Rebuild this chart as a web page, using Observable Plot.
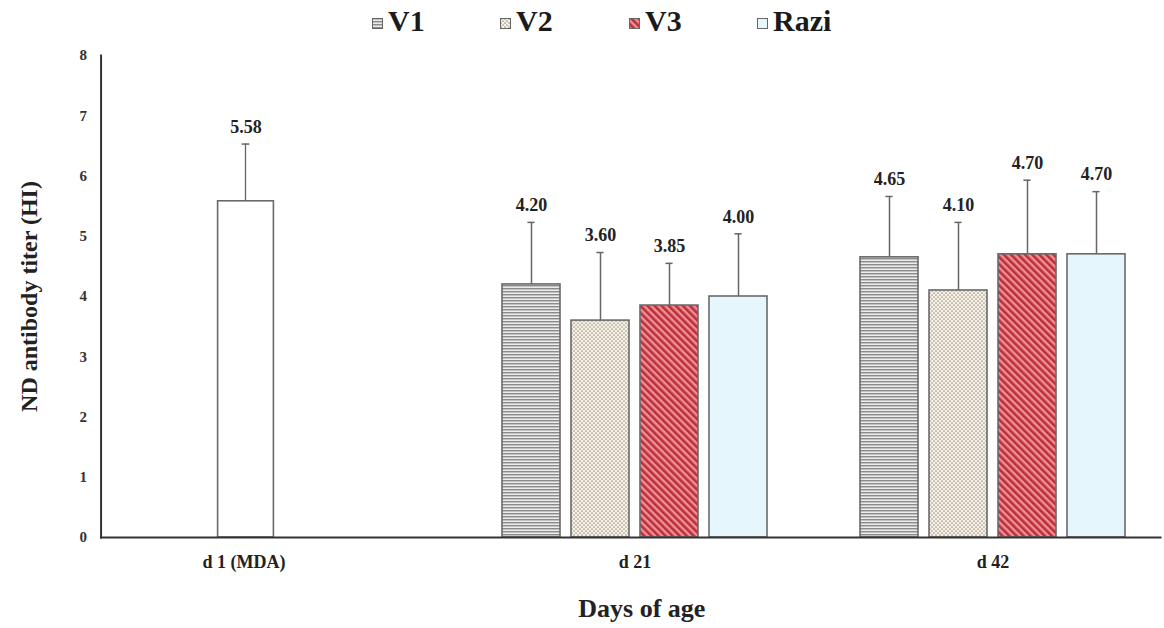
<!DOCTYPE html>
<html>
<head>
<meta charset="utf-8">
<script src="https://cdn.jsdelivr.net/npm/d3@7"></script>
<script src="https://cdn.jsdelivr.net/npm/@observablehq/plot@0.6"></script>
<style>
  html, body { margin: 0; padding: 0; background: #fff; }
  body { width: 1164px; height: 628px; overflow: hidden; font-family: "Liberation Serif", "Times New Roman", serif; }
  #legend { position: relative; height: 42px; }
  .item { position: absolute; top: 0; height: 42px; line-height: 42px; font-size: 30px; font-weight: bold; color: #1a1a1a; display: flex; align-items: center; }
  .item svg { margin-right: 5px; margin-top: 4px; }
</style>
</head>
<body>
<svg width="0" height="0" style="position:absolute">
  <defs>
    <pattern id="pV1" patternUnits="userSpaceOnUse" width="6" height="3">
      <rect width="6" height="3" fill="#ececec"></rect>
      <line x1="0" y1="0.75" x2="6" y2="0.75" stroke="#808080" stroke-width="1.3"></line>
    </pattern>
    <pattern id="pV2" patternUnits="userSpaceOnUse" width="4" height="4">
      <rect width="4" height="4" fill="#f5f0e6"></rect>
      <circle cx="1" cy="1" r="0.85" fill="#a49a8a"></circle>
      <circle cx="3" cy="3" r="0.85" fill="#a49a8a"></circle>
    </pattern>
    <pattern id="pV3" patternUnits="userSpaceOnUse" width="5" height="5" patternTransform="rotate(-45)">
      <rect width="5" height="5" fill="#f09095"></rect>
      <rect x="0" y="0" width="2.6" height="5" fill="#b92f3c"></rect>
    </pattern>
  </defs>
</svg>
<div id="legend"></div>
<div id="chart"></div>
<script>
// ---- data ----
const days = ["d 1 (MDA)", "d 21", "d 42"];
const groups = ["V1", "V2", "V3", "Razi"];
const mdaValue = [5.58];
const mdaSD = [0.95];
const d21Values = [4.20, 3.60, 3.85, 4.00];
const d21SD = [1.03, 1.13, 0.70, 1.04];
const d42Values = [4.65, 4.10, 4.70, 4.70];
const d42SD = [1.01, 1.13, 1.23, 1.04];
const yTicks = [0, 1, 2, 3, 4, 5, 6, 7, 8];
const groupFills = ["url(#pV1)", "url(#pV2)", "url(#pV3)", "#e5f7fc"];

const rows = [
  ...groups.map((g, i) => ({day: "d 21", group: g, value: d21Values[i], sd: d21SD[i]})),
  ...groups.map((g, i) => ({day: "d 42", group: g, value: d42Values[i], sd: d42SD[i]}))
];
const mdaRows = mdaValue.map((v, i) => ({day: "d 1 (MDA)", value: v, sd: mdaSD[i]}));

// ---- layout ----
const width = 1164, height = 586;
const marginLeft = 100, marginRight = 26, marginTop = 13, marginBottom = 91;
const fxPadIn = 0.187, fxPadOut = 0.0425, xPadding = 0.16;
const fxBand = d3.scaleBand(days, [marginLeft, width - marginRight]).paddingInner(fxPadIn).paddingOuter(fxPadOut).align(1);
const facetW = fxBand.bandwidth();
const axisShift = marginLeft - fxBand(days[0]);   // y axis sits at the plot edge, left of the first facet
const superCenter = (fxBand(days[0]) + width - marginRight) / 2;
const xTitleCenter = 641;
const xStep = facetW / (groups.length + xPadding);
const barW = xStep * (1 - xPadding);
const mdaBarW = 56;
const mdaShift = -31;   // MDA bar sits left of its facet centre in the original
const capW = 8;
const stroke = "#6a6a6a";
const side = (w, shift) => ({insetLeft: (facetW - w) / 2 + shift, insetRight: (facetW - w) / 2 - shift});

// ---- legend ----
const legend = document.getElementById("legend");
const legendLeft = [372, 500, 629, 757];
groups.forEach((g, i) => {
  const d = document.createElement("div");
  d.className = "item";
  d.style.left = legendLeft[i] + "px";
  d.innerHTML = `<svg width="11" height="11"><rect x="0.5" y="0.5" width="10" height="10" fill="${groupFills[i]}" stroke="#666" stroke-width="1"></rect></svg><span>${g}</span>`;
  legend.appendChild(d);
});

// ---- chart ----
const chart = Plot.plot({
  width, height, marginLeft, marginRight, marginTop, marginBottom,
  style: {fontFamily: "'Liberation Serif', 'Times New Roman', serif", fontWeight: "bold", color: "#222", background: "#fff"},
  fx: {domain: days, paddingInner: fxPadIn, paddingOuter: fxPadOut, align: 1, axis: null},
  x: {domain: groups, padding: xPadding, axis: null},
  y: {domain: [0, 8], axis: null},
  color: {domain: groups, range: groupFills},
  marks: [
    // grouped bars
    Plot.barY(rows, {fx: "day", x: "group", y: "value", fill: "group", stroke, strokeWidth: 1.6}),
    // MDA bar (single bar in d 1 facet)
    Plot.barY(mdaRows, {fx: "day", y: "value", fill: "#fff", stroke, strokeWidth: 1.6, ...side(mdaBarW, mdaShift)}),
    // error whiskers
    Plot.ruleX(rows, {fx: "day", x: "group", y1: "value", y2: d => d.value + d.sd, stroke: "#666", strokeWidth: 1.5}),
    Plot.barY(mdaRows, {fx: "day", y1: "value", y2: d => d.value + d.sd, fill: "#666", ...side(1.5, mdaShift)}),
    // caps
    Plot.tickY(rows, {fx: "day", x: "group", y: d => d.value + d.sd, stroke: "#666", strokeWidth: 1.5,
      insetLeft: (barW - capW) / 2, insetRight: (barW - capW) / 2}),
    Plot.tickY(mdaRows, {fx: "day", y: d => d.value + d.sd, stroke: "#666", strokeWidth: 1.5, ...side(capW, mdaShift)}),
    // value labels
    Plot.text(rows, {fx: "day", x: "group", y: d => d.value + d.sd, text: d => d.value.toFixed(2), dy: -17, fontSize: 18, fill: "#222"}),
    Plot.text(mdaRows, {fx: "day", y: d => d.value + d.sd, text: d => d.value.toFixed(2), frameAnchor: "middle", dx: mdaShift, dy: -17, fontSize: 18, fill: "#222"}),
    // axis lines
    Plot.frame({anchor: "bottom", facet: "super", stroke: "#333", strokeWidth: 2, insetLeft: axisShift, insetRight: -22}),
    Plot.frame({anchor: "left", facet: "super", stroke: "#333", strokeWidth: 2, insetLeft: axisShift}),
    // axes
    Plot.axisY(yTicks, {tickSize: 0, tickPadding: 14, dx: axisShift, fontSize: 15, label: null, fill: "#333", tickFormat: d3.format("d")}),
    Plot.axisFx({ticks: [days[0]], anchor: "bottom", tickSize: 0, tickPadding: 18, dx: mdaShift - 2, fontSize: 18, label: null, fill: "#222"}),
    Plot.axisFx({ticks: days.slice(1), anchor: "bottom", tickSize: 0, tickPadding: 18, fontSize: 18, label: null, fill: "#222"}),
    // axis titles
    Plot.text(["Days of age"], {facet: "super", frameAnchor: "bottom", dx: xTitleCenter - superCenter, dy: 71, lineAnchor: "middle", fontSize: 26, fill: "#222"}),
    Plot.text(["ND antibody titer (HI)"], {facet: "super", frameAnchor: "left", dx: axisShift - 72, rotate: -90, textAnchor: "middle", lineAnchor: "middle", fontSize: 24, fill: "#222"})
  ]
});
document.getElementById("chart").appendChild(chart);
</script>
</body>
</html>
